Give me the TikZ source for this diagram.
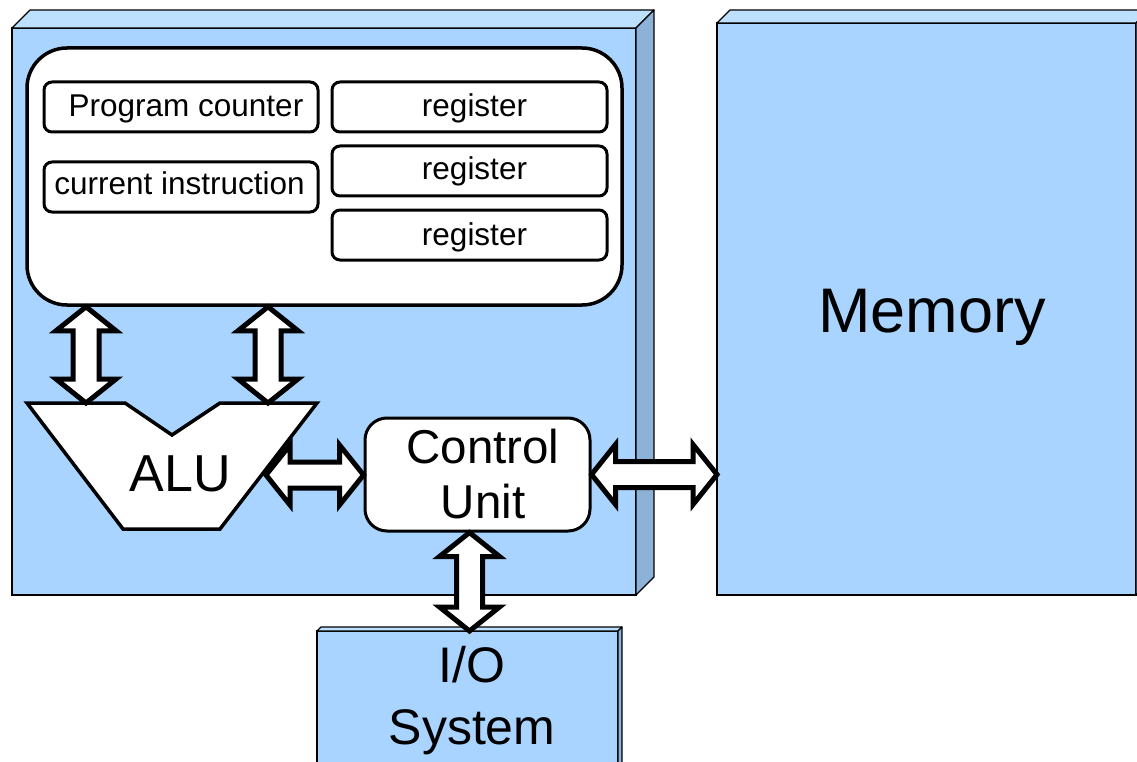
\documentclass[tikz,border=0pt]{standalone}
\usepackage{fontspec}
\setmainfont{Liberation Sans}
\usetikzlibrary{calc}

\definecolor{boxfront}{RGB}{168,212,255}
\definecolor{boxtop}{RGB}{190,224,255}
\definecolor{boxside}{RGB}{141,178,216}

% geometry of the fat double-headed bus arrows
\newcommand\fahl{24pt}% head length
\newcommand\fahw{30pt}% half width of the head
\newcommand\fasw{13pt}% half width of the shaft

\newcommand\fatarrow[2]{%
  \draw[busarrow] (#1)
    -- ($(#1)!\fahl!(#2)!\fahw!90:(#2)$)
    -- ($(#1)!\fahl!(#2)!\fasw!90:(#2)$)
    -- ($(#2)!\fahl!(#1)!\fasw!-90:(#1)$)
    -- ($(#2)!\fahl!(#1)!\fahw!-90:(#1)$)
    -- (#2)
    -- ($(#2)!\fahl!(#1)!\fahw!90:(#1)$)
    -- ($(#2)!\fahl!(#1)!\fasw!90:(#1)$)
    -- ($(#1)!\fahl!(#2)!\fasw!-90:(#2)$)
    -- ($(#1)!\fahl!(#2)!\fahw!-90:(#2)$)
    -- cycle;}

\tikzset{
  front/.style={draw=black, line width=1.5pt, fill=boxfront, inner sep=0pt, outer sep=0pt},
  topface/.style={draw=black, line width=1.2pt, line join=round, fill=boxtop},
  sideface/.style={draw=black, line width=1.2pt, line join=round, fill=boxside},
  regbox/.style={draw, line width=3pt, rounded corners=8pt, fill=white,
    minimum width=274pt, minimum height=50pt, inner sep=0pt,
    text height=20pt, text depth=0pt,
    font=\fontsize{31.5}{36}\selectfont},
  busarrow/.style={draw=black, fill=white, line width=5pt, line join=miter},
}

\begin{document}
\begin{tikzpicture}[x=1pt, y=-1pt]
\useasboundingbox (0,0) rectangle (1137,762);

% processor block
\node[front, minimum width=624pt, minimum height=567pt] (cpu) at (324,311.5) {};
\path[topface] (cpu.north west) -- ++(18,-18) -- ([shift={(18,-18)}]cpu.north east) -- (cpu.north east) -- cycle;
\path[sideface] (cpu.north east) -- ++(18,-18) -- ([shift={(18,-18)}]cpu.south east) -- (cpu.south east) -- cycle;

% memory block
\node[front, minimum width=419pt, minimum height=572pt] (mem) at (926.5,309) {};
\path[topface] (mem.north west) -- ++(13,-13) -- ([shift={(13,-13)}]mem.north east) -- (mem.north east) -- cycle;
\path[sideface] (mem.north east) -- ++(13,-13) -- ([shift={(13,-13)}]mem.south east) -- (mem.south east) -- cycle;
\node[font=\fontsize{63}{70}\selectfont] (memtext) at (932,317) {Memory};

% I/O block
\node[front, minimum width=301pt, minimum height=149pt] (io) at (467.5,705.5) {};
\path[topface] (io.north west) -- ++(4,-4) -- ([shift={(4,-4)}]io.north east) -- (io.north east) -- cycle;
\path[sideface] (io.north east) -- ++(4,-4) -- ([shift={(4,-4)}]io.south east) -- (io.south east) -- cycle;
\node[align=center, inner sep=0pt, font=\fontsize{50}{62}\selectfont] (iotext) at (472,701) {I/O\\System};

% register file
\node[draw, line width=3.5pt, fill=white, rounded corners=40pt, inner sep=0pt,
      minimum width=595pt, minimum height=257pt] (regs) at (324.5,176.5) {};
\node[regbox] (pc) at (181,107) {\hspace*{10pt}Program counter};
\node[regbox, text height=14pt] (ci) at (181,187) {current instruction\hspace*{3pt}};
\node[regbox, minimum width=275pt] (r1) at (469.5,107) {\hspace*{10pt}register};
\node[regbox, minimum width=275pt, text height=18pt] (r2) at (469.5,171) {\hspace*{10pt}register};
\node[regbox, minimum width=275pt] (r3) at (469.5,235) {\hspace*{10pt}register};

% arithmetic logic unit
\draw[line width=3.5pt, fill=white, line join=miter]
  (27,403) -- (125,403) -- (172,435) -- (220,403) -- (317,403)
  -- (220,529) -- (123,529) -- cycle;
\node[font=\fontsize{52}{60}\selectfont] (alu) at (180,474) {ALU};
\coordinate (aluinL) at (86,403);
\coordinate (aluinR) at (268,403);
\coordinate (aluout) at (266,475);

% control unit
\node[draw, line width=3pt, fill=white, rounded corners=22pt, inner sep=0pt,
      minimum width=225pt, minimum height=113pt] (cu) at (477.5,474.5) {};
\node[align=center, inner sep=0pt, font=\fontsize{47.5}{55}\selectfont] (cutext) at (483,474.5) {Control\\Unit};

% bus end points
\coordinate (busL) at (regs.south -| aluinL);
\coordinate (busR) at (regs.south -| aluinR);
\coordinate (cuW) at (cu.west |- aluout);
\coordinate (cuE) at (cu.east);
\coordinate (memW) at (mem.west |- cu.east);
\coordinate (cuS) at ([xshift=-8pt]cu.south);
\coordinate (ioN) at (io.north -| cuS);

% buses
\fatarrow{busL}{aluinL}
\fatarrow{busR}{aluinR}
\fatarrow{aluout}{cuW}
\fatarrow{cuE}{memW}
\fatarrow{cuS}{ioN}
\end{tikzpicture}
\end{document}
